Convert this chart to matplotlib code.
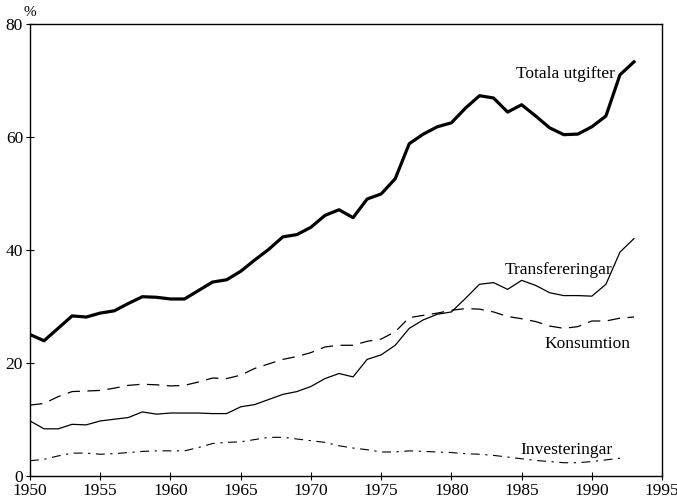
import matplotlib
matplotlib.use("Agg")
import matplotlib.pyplot as plt

# Offentliga utgifter i procent, 1950-1993
years = list(range(1950, 1994))

totala = [25.0, 23.9, 26.1, 28.3, 28.1, 28.8, 29.2, 30.5, 31.7, 31.6,
          31.3, 31.3, 32.8, 34.3, 34.7, 36.2, 38.2, 40.1, 42.3, 42.7,
          44.0, 46.1, 47.1, 45.7, 49.0, 49.9, 52.6, 58.8, 60.5, 61.8,
          62.5, 65.1, 67.3, 66.9, 64.4, 65.7, 63.7, 61.6, 60.4, 60.5,
          61.8, 63.7, 71.0, 73.3]

transfereringar = [9.7, 8.3, 8.3, 9.1, 9.0, 9.7, 10.0, 10.3, 11.3, 10.9,
                   11.1, 11.1, 11.1, 11.0, 11.0, 12.2, 12.6, 13.5, 14.4, 14.9,
                   15.8, 17.2, 18.1, 17.5, 20.6, 21.4, 23.1, 26.1, 27.6, 28.6,
                   29.0, 31.4, 33.9, 34.2, 33.0, 34.6, 33.7, 32.4, 31.9, 31.9,
                   31.8, 33.9, 39.6, 42.0]

konsumtion = [12.5, 12.8, 14.0, 14.9, 15.0, 15.1, 15.5, 16.0, 16.2, 16.1,
              15.9, 16.0, 16.6, 17.3, 17.2, 17.8, 19.0, 19.8, 20.6, 21.1,
              21.8, 22.8, 23.1, 23.1, 23.8, 24.2, 25.5, 28.0, 28.4, 28.8,
              29.3, 29.6, 29.5, 29.0, 28.2, 27.8, 27.3, 26.5, 26.1, 26.4,
              27.4, 27.4, 27.9, 28.1]

# investeringar slutar 1992
inv_years = list(range(1950, 1993))
investeringar = [2.65, 2.9, 3.5, 4.0, 4.0, 3.8, 3.9, 4.1, 4.3, 4.4,
                 4.4, 4.4, 5.0, 5.7, 5.9, 6.0, 6.4, 6.8, 6.8, 6.5,
                 6.2, 5.9, 5.3, 4.9, 4.6, 4.2, 4.2, 4.4, 4.3, 4.2,
                 4.1, 3.9, 3.8, 3.6, 3.3, 3.0, 2.7, 2.5, 2.3, 2.3,
                 2.5, 2.8, 3.1]

xticks = list(range(1950, 2000, 5))
yticks = [0, 20, 40, 60, 80]

plt.rcParams['font.family'] = ['Liberation Serif', 'DejaVu Serif']

fig = plt.figure(figsize=(6.77, 5.0), dpi=100)
ax = fig.add_axes([0.0443, 0.0486, 0.9337, 0.9034])

# linjer
ax.plot(years, totala, color='black', lw=2.3, solid_joinstyle='round')
ax.plot(years, transfereringar, color='black', lw=0.9)
ax.plot(years, konsumtion, color='black', lw=0.9, dashes=(10, 6))
ax.plot(inv_years, investeringar, color='black', lw=0.8, dashes=(8, 5, 2, 5))

# etiketter
ax.text(1988.1, 71.1, 'Totala utgifter', fontsize=12.5, ha='center', va='center')
ax.text(1987.6, 36.4, 'Transfereringar', fontsize=12.5, ha='center', va='center')
ax.text(1989.7, 23.3, 'Konsumtion', fontsize=12.5, ha='center', va='center')
ax.text(1988.2, 4.6, 'Investeringar', fontsize=12.5, ha='center', va='center')
ax.text(1950, 82.0, '%', fontsize=11, ha='center', va='center')

# axlar
ax.set_xlim(1950, 1995)
ax.set_ylim(0, 80)
ax.set_xticks(xticks)
ax.set_yticks(yticks)
ax.tick_params(direction='inout', length=6, width=0.8, labelsize=12.5, pad=2,
               colors='black')
for s in ax.spines.values():
    s.set_linewidth(1.0)

fig.savefig('out.png', dpi=100)
